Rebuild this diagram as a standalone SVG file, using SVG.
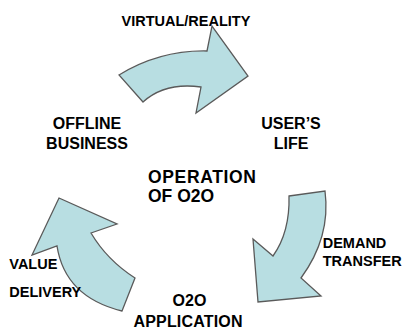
<svg xmlns="http://www.w3.org/2000/svg" width="402" height="329" viewBox="0 0 402 329">
<style>
.arrow{fill:#B8DEE2;stroke:#5A5A5A;stroke-width:1.3;stroke-linejoin:miter}
text{font-family:"Liberation Sans",Arial,sans-serif;font-weight:bold;fill:#000}
.s{font-size:14.5px}
.m{font-size:16px}
.l{font-size:17.5px}
.c{text-anchor:middle}
</style>
<rect width="402" height="329" fill="#fff"/>
<g id="connectors">
<path class="arrow" d="M119 75 Q160 50 207 51 L212 26 L248 76 L196 113 L201 87 Q165 82 143 102 Z"/>
<path class="arrow" d="M289 196 L325 191 Q331 237 301 278 L321 296 L258 302 L253 239 L273 256 Q290 232 289 196 Z"/>
<path class="arrow" d="M59 198 L117 224 L91 233 Q107 260 135 278 L122 311 Q65 297 57 246 L32 255 Z"/>
</g>
<g id="virtual-reality"><text class="s" x="121.5" y="25.5">VIRTUAL/REALITY</text></g>
<g id="offline-business"><text class="m c" x="87" y="129">OFFLINE</text><text class="m c" x="87" y="149">BUSINESS</text></g>
<g id="users-life"><text class="m c" x="291" y="129">USER’S</text><text class="m c" x="291" y="149">LIFE</text></g>
<g id="operation"><text class="l" x="148" y="182.7" textLength="108" lengthAdjust="spacing">OPERATION</text><text class="l" x="148" y="201.7">OF O2O</text></g>
<g id="demand-transfer"><text class="s" x="322.7" y="248.3">DEMAND</text><text class="s" x="322.7" y="266">TRANSFER</text></g>
<g id="value-delivery"><text class="s" x="9.3" y="269.3">VALUE</text><text class="s" x="9.3" y="296.7">DELIVERY</text></g>
<g id="o2o-application"><text class="m c" x="189.5" y="306">O2O</text><text class="m c" x="188" y="326.7" textLength="109" lengthAdjust="spacing">APPLICATION</text></g>
</svg>
